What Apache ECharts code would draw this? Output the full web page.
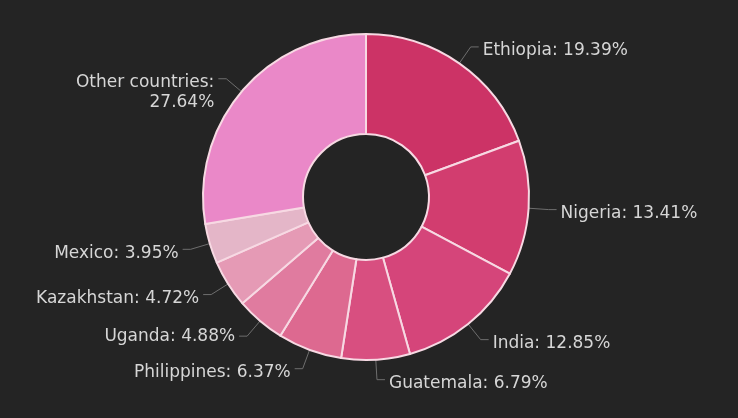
<!DOCTYPE html>
<html>
<head>
<meta charset="utf-8">
<script src="https://cdn.jsdelivr.net/npm/echarts@6/dist/echarts.min.js"></script>
<style>
html,body{margin:0;padding:0;background:#242424;}
#c{width:738px;height:418px;}
</style>
</head>
<body>
<div id="c"></div>
<script>
const categories = ["Ethiopia","Nigeria","India","Guatemala","Philippines","Uganda","Kazakhstan","Mexico","Other countries"];
const shares = [19.39,13.41,12.85,6.79,6.37,4.88,4.72,3.95,27.64];
const colors = ["#cc3366","#d23d6f","#d5457a","#d84f80","#dd6990","#e07b9f","#e59ab5","#e4b6c8","#ea88c8"];

const data = categories.map((name, i) => {
  const item = { name: name, value: shares[i], itemStyle: { color: colors[i] } };
  if (name === "Other countries") {
    item.label = {
      formatter: function(p){ return p.name + ":\n" + p.value.toFixed(2) + "%"; },
      align: "right"
    };
  }
  return item;
});

const chart = echarts.init(document.getElementById('c'));
chart.setOption({
  backgroundColor: '#242424',
  animation: false,
  series: [{
    type: 'pie',
    center: [366, 197],
    radius: [63, 163],
    startAngle: 90,
    clockwise: true,
    avoidLabelOverlap: false,
    itemStyle: { borderColor: '#f7d9e3', borderWidth: 2 },
    label: {
      show: true,
      color: '#d6d6d6',
      fontFamily: 'DejaVu Sans',
      fontSize: 17,
      lineHeight: 20,
      formatter: function(p){ return p.name + ': ' + p.value.toFixed(2) + '%'; },
      distanceToLabelLine: 4
    },
    labelLayout: function(params) {
      const n = categories[params.dataIndex];
      if (n === "Other countries") return { dy: 14 };
      if (n === "Uganda") return { dy: 0 };
      return { dy: 4 };
    },
    labelLine: {
      show: true,
      length: 20,
      length2: 8,
      lineStyle: { color: '#6e6e6e', width: 1 }
    },
    data: data
  }]
});
</script>
</body>
</html>
